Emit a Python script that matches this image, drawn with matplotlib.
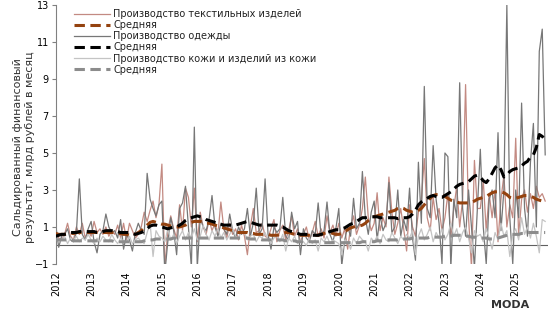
import numpy as np
import matplotlib.pyplot as plt

# Годы (подписи оси X) и помесячные данные, янв 2012 - ноя 2025, млрд руб.
years = ['2012', '2013', '2014', '2015', '2016', '2017', '2018',
         '2019', '2020', '2021', '2022', '2023', '2024', '2025']

# Производство текстильных изделей
textile = [
    [0.8, 0.4, 0.3, 0.6, 1.2, 0.5, 0.3, 1.0, 0.6, 1.2, 0.4, 0.8],
    [0.5, 1.3, 0.7, 0.9, 0.6, 1.0, 0.5, 0.8, 0.6, 1.1, 0.4, 1.2],
    [0.3, 1.2, 0.8, 0.4, 0.6, 1.0, 1.8, 1.3, 1.9, 2.4, 1.5, 2.2],
    [4.4, -1.2, 0.8, 1.6, 0.9, 0.4, 2.2, 0.8, 3.1, 2.6, 1.0, 3.1],
    [0.2, 1.8, 1.0, 0.6, 1.4, 0.8, 1.2, 0.6, 2.35, 0.9, 0.4, 1.2],
    [0.6, 0.9, 0.3, 1.1, 0.5, -0.5, 1.0, 2.0, 0.7, 0.8, 1.2, 0.5],
    [0.4, 0.9, 1.4, 0.2, 0.8, 1.1, 0.3, 0.8, 1.6, 0.5, 0.9, 0.2],
    [0.6, 1.0, 0.3, 0.7, 1.3, 0.5, 0.9, 0.4, 1.6, 0.7, 1.1, 0.5],
    [1.2, 0.4, 0.9, -0.2, 1.0, 1.6, 0.6, 1.1, 2.0, 3.7, 1.5, 0.8],
    [1.2, 2.85, 0.8, 1.5, 1.0, 3.7, 1.8, 0.6, 1.2, 2.0, 0.9, -0.3],
    [2.2, 1.0, 0.5, 1.8, 2.5, 4.7, 1.5, 0.8, 2.6, 1.4, 2.0, 0.8],
    [1.5, 2.8, 0.5, 2.0, 3.2, 1.0, 2.5, 8.7, 1.5, -1.2, 4.6, 2.0],
    [2.0, 3.5, 0.8, 2.8, 1.5, 3.0, 0.2, 2.5, 3.8, 1.0, 2.2, 1.5],
    [5.8, 0.5, 2.5, 3.0, 1.8, 2.8, 2.0, 3.2, 2.6, 2.8, 2.4],
]
textile_avg = [
    [0.65, 0.6, 0.6, 0.6, 0.6, 0.65, 0.65, 0.7, 0.7, 0.7, 0.7, 0.7],
    [0.7, 0.7, 0.7, 0.7, 0.7, 0.7, 0.7, 0.7, 0.7, 0.65, 0.65, 0.6],
    [0.6, 0.55, 0.55, 0.6, 0.7, 0.8, 0.95, 1.1, 1.25, 1.3, 1.25, 1.2],
    [1.15, 1.15, 1.1, 1.05, 1.0, 1.0, 1.0, 1.05, 1.1, 1.2, 1.25, 1.3],
    [1.3, 1.3, 1.25, 1.2, 1.2, 1.15, 1.1, 1.05, 1.0, 0.95, 0.9, 0.85],
    [0.8, 0.75, 0.7, 0.7, 0.7, 0.7, 0.65, 0.65, 0.6, 0.6, 0.6, 0.6],
    [0.6, 0.55, 0.55, 0.55, 0.6, 0.65, 0.7, 0.7, 0.65, 0.6, 0.55, 0.55],
    [0.55, 0.55, 0.55, 0.55, 0.55, 0.55, 0.6, 0.65, 0.7, 0.7, 0.65, 0.6],
    [0.6, 0.65, 0.75, 0.85, 0.95, 1.0, 1.05, 1.05, 1.1, 1.2, 1.35, 1.5],
    [1.55, 1.6, 1.65, 1.7, 1.75, 1.8, 1.85, 1.9, 2.0, 2.05, 2.0, 1.9],
    [1.85, 1.8, 1.8, 1.9, 2.0, 2.2, 2.4, 2.55, 2.7, 2.75, 2.75, 2.7],
    [2.65, 2.55, 2.45, 2.4, 2.35, 2.3, 2.3, 2.3, 2.3, 2.35, 2.4, 2.5],
    [2.55, 2.6, 2.65, 2.75, 2.85, 2.9, 2.9, 2.9, 2.85, 2.75, 2.6, 2.55],
    [2.55, 2.6, 2.65, 2.7, 2.7, 2.65, 2.6, 2.5, 2.45, 2.4, 2.3],
]

# Производство одежды
clothing = [
    [1.1, -0.1, 0.5, 0.6, 0.9, 0.3, 0.2, 0.7, 3.6, 0.6, 0.3, 0.9],
    [1.3, 0.2, -0.4, 0.6, 0.8, 1.7, 1.0, 0.7, 0.8, 0.4, 1.4, -0.2],
    [0.6, 0.3, -0.3, 0.7, 1.2, 0.8, 0.6, 3.9, 2.5, 2.0, 1.6, 2.2],
    [2.4, -1.5, 0.2, 1.5, 0.8, -0.5, 2.0, 2.3, 3.2, 1.0, -1.2, 6.4],
    [-1.2, 1.5, 1.0, 0.8, 1.4, 2.7, 1.0, 0.5, 1.2, 0.9, 0.6, 1.7],
    [0.8, 0.4, 1.0, 0.6, 0.9, 2.0, 0.5, 1.2, 3.1, 0.6, 0.9, 3.6],
    [0.6, -0.2, 1.0, 0.7, 0.9, 2.6, 0.5, 0.3, 1.8, 0.9, 1.3, -0.5],
    [0.9, 0.4, 0.2, 0.8, 0.6, 2.3, 0.5, 0.8, 2.35, 0.6, 0.2, 0.9],
    [2.0, -1.1, 0.3, 1.0, 0.5, 2.55, 0.9, 1.2, 4.0, 1.5, 0.6, 1.8],
    [2.4, 0.3, 1.6, 0.8, 1.2, 3.4, 0.7, 1.0, 3.0, 0.5, 1.4, 0.8],
    [3.1, 0.4, -0.8, 4.5, 1.2, 8.6, 2.0, 1.5, 5.4, 2.5, 1.2, -1.0],
    [5.0, 4.8, -1.2, 2.5, 1.5, 8.8, 2.0, 0.5, 3.0, 1.0, -1.2, 2.0],
    [5.2, 1.0, -1.0, 2.5, 3.0, 1.5, 6.1, 0.8, 3.0, 13.0, 1.5, -1.0],
    [3.0, 1.5, 7.7, 2.0, 0.5, 4.5, 6.6, 1.0, 10.5, 11.7, 4.9],
]
clothing_avg = [
    [0.5, 0.55, 0.6, 0.6, 0.65, 0.7, 0.7, 0.7, 0.75, 0.75, 0.75, 0.75],
    [0.75, 0.75, 0.7, 0.7, 0.75, 0.8, 0.8, 0.8, 0.75, 0.75, 0.7, 0.7],
    [0.7, 0.7, 0.65, 0.6, 0.65, 0.7, 0.8, 0.9, 1.05, 1.1, 1.1, 1.05],
    [1.0, 0.95, 0.9, 0.95, 1.0, 1.0, 1.1, 1.2, 1.35, 1.45, 1.5, 1.55],
    [1.6, 1.55, 1.5, 1.4, 1.35, 1.3, 1.25, 1.2, 1.15, 1.1, 1.1, 1.1],
    [1.1, 1.1, 1.15, 1.2, 1.25, 1.3, 1.25, 1.2, 1.15, 1.1, 1.1, 1.1],
    [1.1, 1.1, 1.1, 1.1, 1.05, 1.0, 0.9, 0.8, 0.75, 0.7, 0.65, 0.6],
    [0.6, 0.6, 0.58, 0.55, 0.55, 0.55, 0.6, 0.65, 0.7, 0.75, 0.8, 0.85],
    [0.85, 0.9, 0.95, 1.05, 1.15, 1.2, 1.3, 1.4, 1.5, 1.5, 1.55, 1.55],
    [1.55, 1.55, 1.5, 1.5, 1.5, 1.5, 1.5, 1.5, 1.45, 1.5, 1.5, 1.5],
    [1.55, 1.7, 1.9, 2.2, 2.35, 2.45, 2.55, 2.65, 2.7, 2.65, 2.6, 2.6],
    [2.7, 2.8, 2.9, 3.05, 3.2, 3.3, 3.35, 3.4, 3.45, 3.6, 3.75, 3.8],
    [3.7, 3.5, 3.4, 3.6, 3.9, 4.2, 4.35, 4.1, 3.7, 3.8, 4.0, 4.1],
    [4.15, 4.2, 4.3, 4.45, 4.55, 4.8, 4.9, 5.3, 6.0, 5.9, 5.7],
]

# Производство кожи и изделий из кожи
leather = [
    [0.6, 0.2, 0.3, 0.5, 0.1, 0.4, 0.3, 0.5, 0.2, 0.4, 0.3, 0.6],
    [0.3, 0.1, 0.4, 0.2, 0.5, 0.3, 0.2, 0.6, 0.3, 0.1, 0.4, 0.2],
    [0.2, 0.5, 0.1, 0.3, 0.4, 0.2, 0.1, 0.7, 1.2, -0.6, 0.8, 0.5],
    [0.4, 0.2, 0.9, 0.3, 0.6, 0.1, 0.5, 0.8, 0.3, 0.7, 0.4, 0.9],
    [0.3, 0.5, 1.1, 0.6, 0.3, 0.8, 0.5, 0.9, 0.4, 0.7, 0.3, 0.6],
    [0.9, 0.5, 0.4, 0.8, 0.7, 0.3, 0.5, 0.6, 0.2, 0.5, 0.4, 0.7],
    [0.3, 0.1, 0.4, 0.5, 0.2, 0.6, -0.3, 0.4, 0.2, 0.5, 0.1, 0.3],
    [0.2, 0.0, 0.4, 0.1, 0.3, -0.3, 0.4, 0.2, 0.5, 0.1, 0.3, 0.2],
    [0.1, -0.5, 0.3, 0.2, -0.2, 0.4, 0.1, 0.5, 0.3, 0.2, -0.3, 0.4],
    [0.2, 0.5, 0.1, 0.6, 0.3, 0.2, 0.7, 0.4, 0.1, 0.5, 0.3, 0.6],
    [0.4, 0.8, -0.5, 0.5, 0.9, 0.3, 0.6, 1.0, 0.2, 0.7, 0.4, 0.9],
    [0.3, 0.6, 1.2, 0.5, 0.9, 0.2, 0.7, 1.0, 0.4, -0.4, 0.8, 0.5],
    [0.6, 0.2, 0.9, 0.4, -0.2, 0.7, 0.3, 1.2, 0.5, 0.8, -0.6, 0.6],
    [0.9, 0.3, 1.5, 0.6, 1.0, 0.4, 1.2, 0.5, -0.4, 1.4, 1.3],
]
leather_avg = [
    [0.3, 0.3, 0.3, 0.3, 0.3, 0.3, 0.25, 0.25, 0.25, 0.25, 0.25, 0.25],
    [0.25, 0.25, 0.25, 0.25, 0.25, 0.25, 0.25, 0.25, 0.2, 0.2, 0.2, 0.2],
    [0.2, 0.2, 0.2, 0.2, 0.2, 0.2, 0.25, 0.3, 0.3, 0.3, 0.35, 0.35],
    [0.35, 0.35, 0.35, 0.35, 0.4, 0.4, 0.4, 0.4, 0.4, 0.4, 0.4, 0.4],
    [0.4, 0.4, 0.4, 0.4, 0.4, 0.4, 0.4, 0.4, 0.4, 0.4, 0.4, 0.4],
    [0.4, 0.4, 0.4, 0.4, 0.4, 0.4, 0.35, 0.35, 0.35, 0.35, 0.3, 0.3],
    [0.3, 0.3, 0.3, 0.3, 0.3, 0.3, 0.25, 0.25, 0.25, 0.25, 0.2, 0.2],
    [0.2, 0.2, 0.2, 0.2, 0.2, 0.2, 0.2, 0.15, 0.15, 0.15, 0.15, 0.15],
    [0.15, 0.15, 0.15, 0.15, 0.15, 0.15, 0.15, 0.15, 0.2, 0.2, 0.2, 0.2],
    [0.2, 0.25, 0.25, 0.25, 0.3, 0.3, 0.3, 0.3, 0.3, 0.35, 0.35, 0.35],
    [0.35, 0.4, 0.4, 0.4, 0.4, 0.4, 0.4, 0.45, 0.45, 0.45, 0.45, 0.45],
    [0.5, 0.5, 0.5, 0.55, 0.55, 0.55, 0.55, 0.5, 0.5, 0.45, 0.45, 0.4],
    [0.4, 0.4, 0.4, 0.35, 0.35, 0.35, 0.4, 0.45, 0.5, 0.55, 0.6, 0.6],
    [0.6, 0.6, 0.65, 0.65, 0.7, 0.7, 0.7, 0.7, 0.7, 0.7, 0.7],
]


def flat(rows):
    return np.concatenate([np.array(r, dtype=float) for r in rows])


x = np.arange(len(flat(textile)))

fig = plt.figure(figsize=(5.52, 3.18), dpi=100)
ax = fig.add_axes([0.101, 0.170, 0.892, 0.814])

dash = (0, (3.4, 1.8))
series = [
    (flat(textile), 'Производство текстильных изделей', '#c38a82', 0.9, '-'),
    (flat(textile_avg), 'Средняя', '#94420f', 2.2, dash),
    (flat(clothing), 'Производство одежды', '#777777', 0.9, '-'),
    (flat(clothing_avg), 'Средняя', '#000000', 2.2, dash),
    (flat(leather), 'Производство кожи и изделий из кожи', '#c4c4c4', 0.9, '-'),
    (flat(leather_avg), 'Средняя', '#8c8c8c', 2.2, dash),
]
for vals, label, color, lw, ls in series:
    z = 4 if lw > 1 else 2
    ax.plot(x, vals, color=color, lw=lw, ls=ls, label=label, zorder=z)

# нулевая линия (ось X в Excel проходит через 0)
ax.axhline(0, color='#606060', lw=0.8, zorder=1)

ax.set_ylim(-1, 13)
ax.set_xlim(0, 167)
ax.set_yticks(np.arange(-1, 14, 2))
year_pos = np.arange(len(years)) * 12
ax.set_xticks(year_pos)
ax.set_xticklabels(years, fontsize=7)

for s in ['top', 'right', 'bottom']:
    ax.spines[s].set_visible(False)
ax.spines['left'].set_color('#808080')
ax.spines['left'].set_linewidth(0.8)

ax.tick_params(axis='y', labelsize=7, length=3, color='#808080', pad=2)
ax.tick_params(axis='x', length=0, pad=5)
fig.canvas.draw()
plt.setp(ax.get_xticklabels(), rotation=90, rotation_mode='anchor',
         ha='right', va='center')

ax.set_ylabel('Сальдированный финансовый\nрезультат, млрд рублей в месяц',
              fontsize=8, color='#333333', linespacing=1.3)
ax.yaxis.set_label_coords(-0.042, 0.45)

leg = ax.legend(loc='upper left', bbox_to_anchor=(0.03, 1.0), frameon=False,
                fontsize=7, handlelength=3.7, labelspacing=0.12,
                handletextpad=0.3, borderaxespad=0.0)
for t in leg.get_texts():
    t.set_color('#222222')

fig.text(0.958, 0.025, 'MODA', ha='right', va='bottom', fontsize=8,
         fontweight='bold', color='#333333')

fig.savefig('out.png', dpi=100)
